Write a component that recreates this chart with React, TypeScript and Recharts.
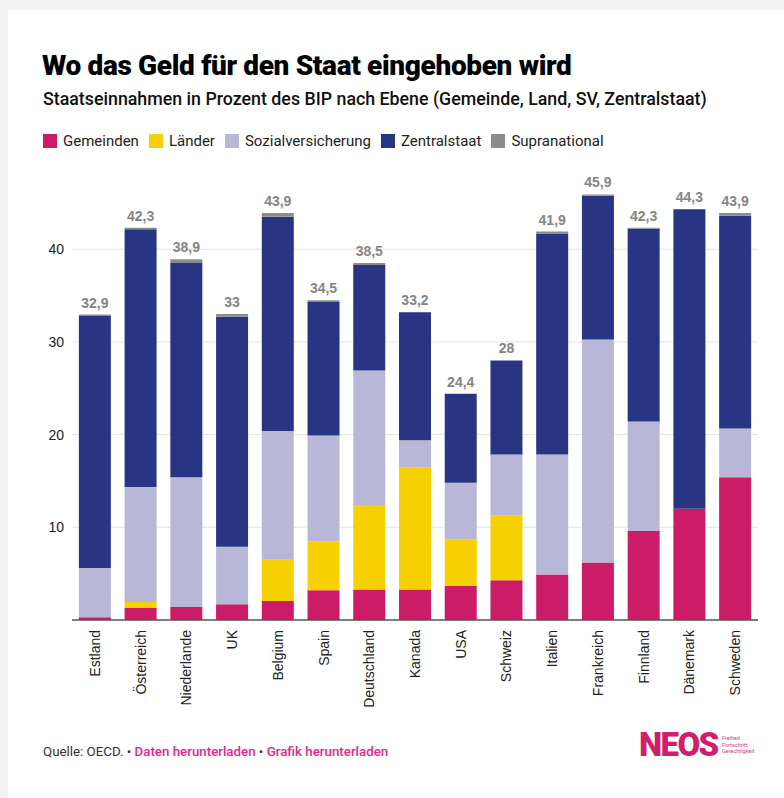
import React from 'react'
import { BarChart, Bar, XAxis, YAxis, CartesianGrid, LabelList } from 'recharts'

const countries = [
  'Estland', 'Österreich', 'Niederlande', 'UK', 'Belgium', 'Spain', 'Deutschland', 'Kanada',
  'USA', 'Schweiz', 'Italien', 'Frankreich', 'Finnland', 'Dänemark', 'Schweden',
]
const gemeinden = [0.3, 1.3, 1.4, 1.7, 2.05, 3.2, 3.3, 3.3, 3.7, 4.3, 4.9, 6.2, 9.6, 12.0, 15.4]
const laender = [0, 0.65, 0, 0, 4.45, 5.3, 9.1, 13.15, 5.0, 7.0, 0, 0, 0, 0, 0]
const sozialversicherung = [5.3, 12.4, 14.0, 6.2, 13.9, 11.4, 14.5, 2.95, 6.1, 6.55, 12.95, 24.05, 11.8, 0, 5.25]
const zentralstaat = [27.2, 27.8, 23.1, 24.8, 23.1, 14.4, 11.4, 13.8, 9.6, 10.15, 23.85, 15.5, 20.8, 32.3, 22.95]
const supranational = [0.15, 0.15, 0.4, 0.3, 0.4, 0.2, 0.2, 0, 0, 0, 0.2, 0.15, 0.1, 0, 0.3]
const totals = [32.9, 42.3, 38.9, 33, 43.9, 34.5, 38.5, 33.2, 24.4, 28, 41.9, 45.9, 42.3, 44.3, 43.9]
const yTicks = [10, 20, 30, 40]
const yMax = 48

const series = [
  { key: 'gemeinden', name: 'Gemeinden', color: '#cc1b67' },
  { key: 'laender', name: 'Länder', color: '#f6d000' },
  { key: 'sozialversicherung', name: 'Sozialversicherung', color: '#b9b7d7' },
  { key: 'zentralstaat', name: 'Zentralstaat', color: '#283582' },
  { key: 'supranational', name: 'Supranational', color: '#8c8c8c' },
]

const data = countries.map((c, i) => ({
  country: c,
  gemeinden: gemeinden[i],
  laender: laender[i],
  sozialversicherung: sozialversicherung[i],
  zentralstaat: zentralstaat[i],
  supranational: supranational[i],
  total: totals[i],
}))

const grotesk = 'Roboto, "Liberation Sans", Arial, sans-serif'
const sans = '"Liberation Sans", Arial, sans-serif'
const pink = '#e3288a'

function fmt(v: number) {
  return String(v).replace('.', ',')
}

// only draw grid lines at the labelled ticks (no line along the top edge)
function gridRows({ yAxis, offset }: any) {
  const sc = yAxis?.scale
  if (typeof sc === 'function') return yTicks.map(t => sc(t))
  if (sc && typeof sc.map === 'function') return yTicks.map(t => sc.map(t))
  if (sc && typeof sc.apply === 'function') return yTicks.map(t => sc.apply(t))
  return yTicks.map(t => offset.top + offset.height * (1 - t / yMax))
}

function CountryTick({ x, y, payload }: any) {
  const tx = x + 5
  const ty = y + 2
  return (
    <text
      x={tx}
      y={ty}
      transform={`rotate(-90 ${tx} ${ty})`}
      textAnchor="end"
      fontSize={14}
      fontFamily={sans}
      fill="#222"
    >
      {payload.value}
    </text>
  )
}

// total label sits above the whole stack; drawn from the Zentralstaat segment
// so countries without a supranational share still get one
function TotalLabel(props: any) {
  const { x, y, width, height, index } = props
  const pxPerUnit = height / zentralstaat[index]
  const top = y - supranational[index] * pxPerUnit
  return (
    <text
      x={x + width / 2}
      y={top - 7}
      textAnchor="middle"
      fontSize={14}
      fontWeight={700}
      fontFamily={sans}
      fill="#858585"
    >
      {fmt(totals[index])}
    </text>
  )
}

export default function App() {
  return (
    <div style={{ position: 'absolute', left: 0, top: 0, width: 784, height: 798, background: '#f4f4f4', overflow: 'hidden' }}>
      <div style={{ position: 'absolute', left: 8, top: 10, width: 776, height: 788, background: '#fff' }} />

      <div style={{ position: 'absolute', left: 42, top: 49, fontFamily: grotesk, fontWeight: 900, fontSize: 28, letterSpacing: -0.35, color: '#000', whiteSpace: 'nowrap' }}>
        Wo das Geld für den Staat eingehoben wird
      </div>
      <div style={{ position: 'absolute', left: 43, top: 88, fontFamily: grotesk, fontWeight: 500, fontSize: 17.8, color: '#111', whiteSpace: 'nowrap' }}>
        Staatseinnahmen in Prozent des BIP nach Ebene (Gemeinde, Land, SV, Zentralstaat)
      </div>

      <div style={{ position: 'absolute', left: 43, top: 132, display: 'flex', alignItems: 'center', fontFamily: grotesk, fontSize: 15, color: '#222' }}>
        {series.map(s => (
          <span key={s.key} style={{ display: 'flex', alignItems: 'center', marginRight: 10 }}>
            <span style={{ display: 'inline-block', width: 14, height: 14, background: s.color, marginRight: 6 }} />
            {s.name}
          </span>
        ))}
      </div>

      <div style={{ position: 'absolute', left: 0, top: 160 }}>
        <BarChart
          width={784}
          height={560}
          data={data}
          margin={{ top: 15, right: 26, left: 12, bottom: 10 }}
          barCategoryGap="15%"
        >
          <CartesianGrid
            vertical={false}
            stroke="#e3e3e3"
            strokeWidth={1}
            horizontalCoordinatesGenerator={gridRows}
          />
          <XAxis
            dataKey="country"
            interval={0}
            height={90}
            tickLine={false}
            axisLine={{ stroke: '#555', strokeWidth: 1.5 }}
            tick={<CountryTick />}
          />
          <YAxis
            width={60}
            domain={[0, yMax]}
            ticks={yTicks}
            tickLine={false}
            axisLine={false}
            tick={{ fontSize: 14, fill: '#222', fontFamily: sans }}
          />
          {series.map(s => (
            <Bar key={s.key} dataKey={s.key} name={s.name} stackId="a" fill={s.color} isAnimationActive={false}>
              {s.key === 'zentralstaat' && <LabelList dataKey="total" content={<TotalLabel />} />}
            </Bar>
          ))}
        </BarChart>
      </div>

      <div style={{ position: 'absolute', left: 43, top: 744, fontFamily: grotesk, fontSize: 13.3, color: '#333', whiteSpace: 'nowrap' }}>
        Quelle: OECD. • <span style={{ color: pink, fontWeight: 500 }}>Daten herunterladen</span> • <span style={{ color: pink, fontWeight: 500 }}>Grafik herunterladen</span>
      </div>

      <div style={{ position: 'absolute', left: 639, top: 726, fontFamily: grotesk, fontWeight: 900, fontSize: 33, letterSpacing: -1.6, color: '#cf1f6c', lineHeight: '38px' }}>
        NEOS
      </div>
      <div style={{ position: 'absolute', left: 722, top: 735, fontFamily: grotesk, fontSize: 5.5, lineHeight: '6.5px', color: '#d33a7c' }}>
        Freiheit<br />Fortschritt<br />Gerechtigkeit
      </div>
    </div>
  )
}
